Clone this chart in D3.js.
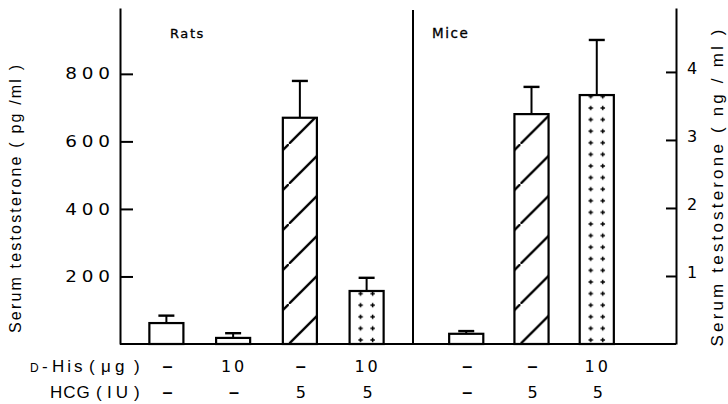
<!DOCTYPE html>
<html><head><meta charset="utf-8">
<script src="https://cdn.jsdelivr.net/npm/d3@7"></script>
<style>body{margin:0;background:#fff}svg{display:block}</style>
</head><body><svg id="c" width="728" height="404"></svg>
<script>
// ---- data ----
const ratGroups   = ["R1","R2","R3","R4"];
const ratValues   = [62, 18, 670, 157];          // pg/ml
const ratErrors   = [22, 14, 109, 39];
const ratPatterns = ["none","none","hatch","plus"];
const miceGroups   = ["M1","M2","M3"];
const miceValues   = [0.15, 3.38, 3.66];          // ng/ml
const miceErrors   = [0.04, 0.40, 0.81];
const micePatterns = ["none","hatch","plus"];
const ratDHis  = ["–","10","–","10"];
const ratHCG   = ["–","–","5","5"];
const miceDHis = ["–","–","10"];
const miceHCG  = ["–","5","5"];
const leftTicks  = [200,400,600,800];
const rightTicks = [1,2,3,4];
const panelNames = ["Rats","Mice"];

// ---- layout ----
const svg = d3.select("#c");
const FONT = "'Liberation Sans', Arial, sans-serif";
const WIDE = "'DejaVu Sans', sans-serif";
const X0 = 120, XDIV = 413, X1 = 676, YB = 344, YT = 8;

const yL = d3.scaleLinear().domain([0, 995]).range([YB, YT]);
const yR = d3.scaleLinear().domain([0, 4.94]).range([YB, YT]);
const xR = d3.scaleBand().domain(ratGroups).range([X0, XDIV]).paddingInner(0.49).paddingOuter(0.44);
const xM = d3.scaleBand().domain(miceGroups).range([XDIV, 650]).paddingInner(0.477).paddingOuter(0.554);

const defs = svg.append("defs");

function drawPanel(id, groups, values, errors, patterns, x, y) {
  const bw = x.bandwidth();
  groups.forEach((g, i) => {
    const left = x(g);
    const top = y(values[i]);
    let fill = "#fff";
    if (patterns[i] === "hatch") {
      const pid = `hatch-${id}-${i}`;
      const p = defs.append("pattern").attr("id", pid).attr("patternUnits","userSpaceOnUse")
        .attr("x", left + 6).attr("y", y(0)).attr("width", 40).attr("height", 40);
      p.append("rect").attr("width",40).attr("height",40).attr("fill","#fff");
      p.append("line").attr("x1",-10).attr("y1",50).attr("x2",50).attr("y2",-10)
        .attr("stroke","#000").attr("stroke-width",2.3);
      fill = `url(#${pid})`;
    } else if (patterns[i] === "plus") {
      const pid = `plus-${id}-${i}`;
      const h = 11.6;
      const p = defs.append("pattern").attr("id", pid).attr("patternUnits","userSpaceOnUse")
        .attr("x", left).attr("y", y(0) - 4 - h/2).attr("width", bw).attr("height", h);
      p.append("rect").attr("width",bw).attr("height",h).attr("fill","#fff");
      [bw/2 - 6, bw/2 + 6].forEach(cx => {
        p.append("path").attr("d", `M${cx-2.2},${h/2}H${cx+2.2}M${cx},${h/2-2.2}V${h/2+2.2}`)
          .attr("stroke","#000").attr("stroke-width",1.5);
      });
      fill = `url(#${pid})`;
    }
    svg.append("rect").attr("x", left).attr("y", top).attr("width", bw).attr("height", y(0) - top)
      .attr("fill", fill).attr("stroke","#000").attr("stroke-width",2.2);
    const cx = left + bw/2, et = y(values[i] + errors[i]);
    svg.append("line").attr("x1",cx).attr("x2",cx).attr("y1",top).attr("y2",et)
      .attr("stroke","#000").attr("stroke-width",2);
    svg.append("line").attr("x1",cx-8).attr("x2",cx+8).attr("y1",et).attr("y2",et)
      .attr("stroke","#000").attr("stroke-width",2.4);
  });
}
drawPanel("r", ratGroups, ratValues, ratErrors, ratPatterns, xR, yL);
drawPanel("m", miceGroups, miceValues, miceErrors, micePatterns, xM, yR);

// axes
const gL = svg.append("g").attr("transform", `translate(${X0},0)`)
  .call(d3.axisLeft(yL).tickValues(leftTicks).tickFormat(d3.format("d"))
    .tickSizeInner(-13).tickSizeOuter(0).tickPadding(10));
const gRt = svg.append("g").attr("transform", `translate(${X1},0)`)
  .call(d3.axisRight(yR).tickValues(rightTicks).tickFormat(d3.format("d"))
    .tickSizeInner(-10).tickSizeOuter(0).tickPadding(11));
[gL, gRt].forEach(g => {
  g.select(".domain").attr("stroke","#000").attr("stroke-width",2);
  g.selectAll(".tick line").attr("stroke","#000").attr("stroke-width",2);
  g.selectAll(".tick text").attr("fill","#000").style("font-family",WIDE).style("font-size","16px");
});
gL.selectAll(".tick text").attr("x",0).attr("transform","translate(-10,0) scale(1.15,1)")
  .attr("textLength",39).attr("lengthAdjust","spacing");
gRt.selectAll(".tick text").attr("dy","0.1em");

// baseline and divider
svg.append("line").attr("x1",X0).attr("x2",X1).attr("y1",yL(0)).attr("y2",yL(0))
  .attr("stroke","#000").attr("stroke-width",2.2);
svg.append("line").attr("x1",XDIV).attr("x2",XDIV).attr("y1",10).attr("y2",yL(0))
  .attr("stroke","#000").attr("stroke-width",2);

// panel names
svg.append("text").attr("x",170).attr("y",38).attr("letter-spacing","1.6px")
  .attr("stroke","#000").attr("stroke-width",0.3)
  .style("font-family",WIDE).style("font-size","13px").text(panelNames[0]);
svg.append("text").attr("x",432).attr("y",38).attr("letter-spacing","1.6px")
  .attr("stroke","#000").attr("stroke-width",0.3)
  .style("font-family",WIDE).style("font-size","13.5px").text(panelNames[1]);

// axis titles
svg.append("text").attr("transform","translate(21,199) rotate(-90)").attr("text-anchor","middle")
  .attr("textLength",268).attr("lengthAdjust","spacing")
  .style("font-family",FONT).style("font-size","16px").text("Serum testosterone ( pg /ml )");
svg.append("text").attr("transform","translate(723,188) rotate(-90)").attr("text-anchor","middle")
  .attr("textLength",317).attr("lengthAdjust","spacing")
  .style("font-family",FONT).style("font-size","17px").text("Serum testosterone ( ng / ml )");

// treatment table
const row1 = 372, row2 = 398;
const t1 = svg.append("text").attr("y",row1).style("font-family",FONT).style("font-size","17px");
[["D",30,"12px"],["-",42,null],["His",52,null],["(",89,null],["μ",101,null],["g",115,null],[")",134,null]]
  .forEach(([s,xx,fs]) => {
    const ts = t1.append("tspan").attr("x",xx).text(s);
    if (fs) ts.style("font-size",fs);
    if (s === "His") ts.attr("letter-spacing","3px");
  });
const t2 = svg.append("text").attr("y",row2).style("font-family",FONT).style("font-size","17px");
[["HCG",50],["(",96],["IU",107],[")",134]].forEach(([s,xx]) => {
  t2.append("tspan").attr("x",xx).attr("letter-spacing", s==="IU" ? "4px" : "1px").text(s);
});

function tableRow(groups, x, labels, yy) {
  svg.append("g").selectAll("text").data(groups).join("text")
    .attr("x", g => x(g) + x.bandwidth()/2 + 1).attr("y", yy).attr("text-anchor","middle")
    .attr("letter-spacing", (g,i) => labels[i].length > 1 ? "3px" : "0")
    .style("font-weight", (g,i) => labels[i] === "–" ? "bold" : "normal")
    .style("font-family", (g,i) => labels[i] === "–" ? FONT : WIDE)
    .style("font-size", (g,i) => labels[i] === "–" ? "18px" : "16px")
    .text((g,i) => labels[i]);
}
tableRow(ratGroups, xR, ratDHis, row1);
tableRow(ratGroups, xR, ratHCG, row2);
tableRow(miceGroups, xM, miceDHis, row1);
tableRow(miceGroups, xM, miceHCG, row2);
</script></body></html>
